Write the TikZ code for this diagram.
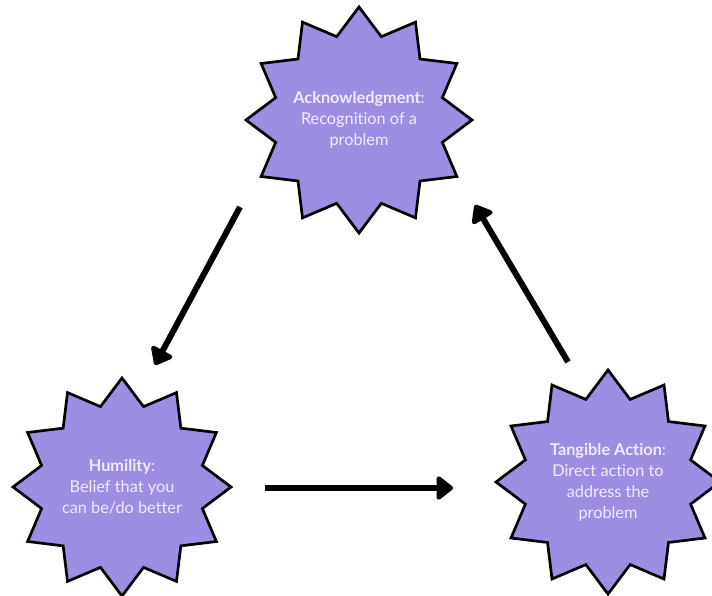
\documentclass[tikz,border=0pt]{standalone}
\usepackage{fontspec}
\setmainfont{Lato}[Ligatures={NoCommon}]
\usepackage{xcolor}
\usetikzlibrary{shapes.geometric, arrows.meta, calc}

\definecolor{burstfill}{HTML}{9D8DE3}
\definecolor{bursttext}{HTML}{F0ECFF}

\begin{document}
\begin{tikzpicture}[
    x=1pt, y=-1pt,
    font=\fontsize{16.3}{21}\selectfont,
    >={Triangle[length=18pt,width=27pt,round]},
    burst/.style={
        star,
        star points=12,
        star point ratio=1.31,
        draw=black,
        line width=2.7pt,
        fill=burstfill,
        text=bursttext,
        align=center,
        inner sep=-20pt
    },
    arrow/.style={->, line width=6pt}
]
\useasboundingbox (0,0) rectangle (712,596);

% Nodes
\node (ack) [burst, minimum size=226pt] at (359,120)
{\textbf{Acknowledgment}:\\
Recognition of a\\
problem};

\node (hum) [burst, minimum size=218pt] at (122,487)
{\textbf{Humility}:\\
Belief that you\\
can be/do better};

\node (act) [burst, minimum size=224pt] at (608,482)
{\textbf{Tangible Action}:\\
Direct action to\\
address the\\
problem};

% Arrow ends
\coordinate (ackout) at ($(ack)+(-119,87)$);
\coordinate (humin) at ($(hum)+(33,-122)$);
\coordinate (humout) at ($(hum)+(143,1)$);
\coordinate (actin) at ($(act)+(-155,6)$);
\coordinate (actout) at ($(act)+(-40,-120)$);
\coordinate (ackin) at ($(ack)+(116,85)$);

% Arrows
\draw [arrow] (ackout) -- (humin);
\draw [arrow] (humout) -- (actin);
\draw [arrow] (actout) -- (ackin);

\end{tikzpicture}
\end{document}
